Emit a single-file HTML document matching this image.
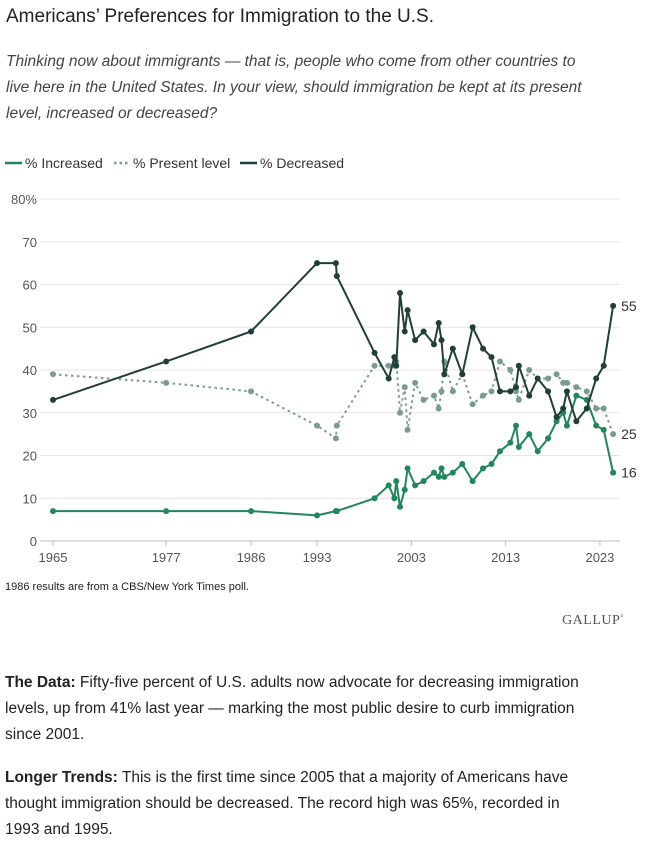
<!DOCTYPE html>
<html><head><meta charset="utf-8">
<style>
body{margin:0;width:648px;height:843px;background:#fff;font-family:"Liberation Sans",Arial,sans-serif;color:#111;position:relative;overflow:hidden}
.abs{position:absolute}
#title{left:6px;top:6px;font-size:19px;color:#222}
#sub{left:6px;top:49px;width:596px;font-size:15.5px;font-style:italic;color:#444;line-height:26px}
#note{left:5px;top:581px;font-size:11px;color:#222}
#logo{right:24px;top:613px;font-family:"Liberation Serif",serif;font-size:14px;color:#555;letter-spacing:0.5px}
.p{left:5px;width:592px;font-size:15.5px;line-height:26px;color:#222}
</style></head><body>
<div id="title" class="abs">Americans’ Preferences for Immigration to the U.S.</div>
<div id="sub" class="abs">Thinking now about immigrants — that is, people who come from other countries to live here in the United States. In your view, should immigration be kept at its present level, increased or decreased?</div>
<svg class="abs" style="left:0;top:145px" width="648" height="440">
<g id="legend" font-size="14" fill="#333">
<g><line x1="5" y1="18" x2="22" y2="18" stroke="#21865a" stroke-width="2.5"/><text x="25" y="23">% Increased</text></g>
<g><line x1="114" y1="18" x2="130" y2="18" stroke="#7a9a93" stroke-width="2.5" stroke-dasharray="2.5,3"/><text x="133" y="23">% Present level</text></g>
<g><line x1="240" y1="18" x2="257" y2="18" stroke="#213f3a" stroke-width="2.5"/><text x="260" y="23">% Decreased</text></g>
</g>
<g id="plot"></g>
</svg>
<div id="note" class="abs">1986 results are from a CBS/New York Times poll.</div>
<div id="logo" class="abs">GALLUP<span style="font-size:8px;vertical-align:top">°</span></div>
<div class="abs p" style="top:670px"><b>The Data:</b> Fifty-five percent of U.S. adults now advocate for decreasing immigration levels, up from 41% last year — marking the most public desire to curb immigration since 2001.</div>
<div class="abs p" style="top:765px"><b>Longer Trends:</b> This is the first time since 2005 that a majority of Americans have thought immigration should be decreased. The record high was 65%, recorded in 1993 and 1995.</div>
<script>
const years=[1965,1977,1986,1993,1995,1995.1,1999.1,2000.6,2001.2,2001.4,2001.8,2002.3,2002.6,2003.4,2004.3,2005.4,2005.9,2006.2,2006.5,2007.4,2008.4,2009.5,2010.6,2011.5,2012.4,2013.5,2014.1,2014.4,2015.5,2016.4,2017.5,2018.4,2019.1,2019.5,2020.5,2021.6,2022.6,2023.4,2024.4];
const decreased=[33,42,49,65,65,62,44,38,43,41,58,49,54,47,49,46,51,47,39,45,39,50,45,43,35,35,36,41,34,38,35,29,31,35,28,31,38,41,55];
const present=[39,37,35,27,24,27,41,41,41,42,30,36,26,37,33,34,31,35,42,35,39,32,34,35,42,40,35,33,40,38,38,39,37,37,36,35,31,31,25];
const increased=[7,7,7,6,7,7,10,13,10,14,8,12,17,13,14,16,15,17,15,16,18,14,17,18,21,23,27,22,25,21,24,28,30,27,34,33,27,26,16];
const yTicks=[0,10,20,30,40,50,60,70,80];
const xTicks=[1965,1977,1986,1993,2003,2013,2023];
const svgTop=145;
const X=y=>53+(y-1965)*9.43;
const Y=v=>541-svgTop-v*4.275;
const NS="http://www.w3.org/2000/svg";
const plot=document.getElementById('plot');
function mk(t,a,p){const e=document.createElementNS(NS,t);for(const k in a)e.setAttribute(k,a[k]);(p||plot).appendChild(e);return e;}
yTicks.forEach(v=>{
 const l=mk('line',{x1:40,x2:620,y1:Y(v),y2:Y(v),stroke:v===0?'#bbb':'#e6e6e6','stroke-width':1});
 
 
 const t=mk('text',{x:37,y:Y(v)+5,'text-anchor':'end','font-size':13,fill:'#555'});
 t.textContent=v===80?'80%':v;
 
 
});
xTicks.forEach(y=>{
 mk('line',{x1:X(y),x2:X(y),y1:Y(0),y2:Y(0)+5,stroke:'#bbb'});
 const t=mk('text',{x:X(y),y:Y(0)+21,'text-anchor':'middle','font-size':13,fill:'#555'});
 t.textContent=y;
 
 
});
function series(vals,color,dash,name){
 const g=mk('g',{});
 
 
 const d=vals.map((v,i)=>(i?'L':'M')+X(years[i]).toFixed(1)+' '+Y(v).toFixed(1)).join(' ');
 const p=mk('path',{d:d,fill:'none',stroke:color,'stroke-width':2,'stroke-dasharray':dash||'none','stroke-linejoin':'round'},g);
 
 
 vals.forEach((v,i)=>{
  const c=mk('circle',{cx:X(years[i]),cy:Y(v),r:3,fill:color},g);
  
  
 });
 const last=vals.length-1;
 const t=mk('text',{x:X(years[last])+8,y:Y(vals[last])+5,'font-size':14,fill:'#333'},g);
 t.textContent=vals[last];
 
 
}
series(present,'#7a9a93','2.5,3.5','present');
series(increased,'#21865a','','increased');
series(decreased,'#213f3a','','decreased');
</script>
</body></html>
